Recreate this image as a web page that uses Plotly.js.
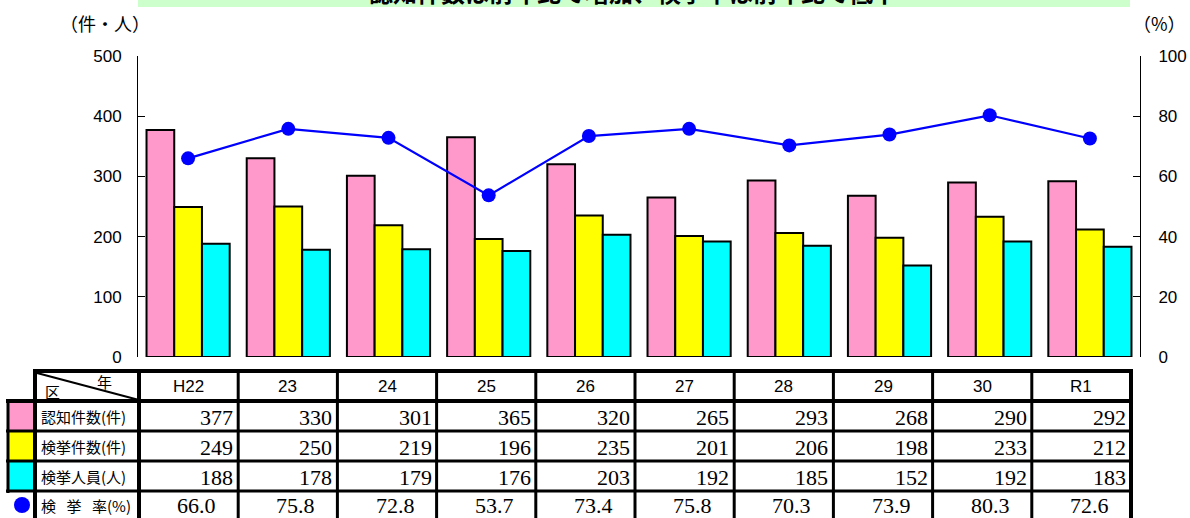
<!DOCTYPE html>
<html>
<head>
<meta charset="utf-8">
<script src="https://cdn.plot.ly/plotly-3.0.1.min.js"></script>
<style>html,body{margin:0;padding:0;background:#fff;}#chart{width:1190px;height:518px;}</style>
</head>
<body>
<div id="chart"></div>
<script>
const categories = ['H22','23','24','25','26','27','28','29','30','R1'];
const ninchiKensu = [377,330,301,365,320,265,293,268,290,292];
const kenkyoKensu = [249,250,219,196,235,201,206,198,233,212];
const kenkyoJinin = [188,178,179,176,203,192,185,152,192,183];
const kenkyoRitsu = [66.0,75.8,72.8,53.7,73.4,75.8,70.3,73.9,80.3,72.6];
const rowLabels = ['認知件数(件)','検挙件数(件)','検挙人員(人)','検 挙 率(%)'];
const titleText = '認知件数は前年比で増加、検挙率は前年比で低下';

const PINK = '#FF99CC', YELLOW = '#FFFF00', CYAN = '#00FFFF', BLUE = '#0000FF';

// plot area geometry (pixels)
const L = 138, R = 1140, T = 56, B = 357;
const W = R - L, H = B - T;
const px = x => (x - L) / W;
const py = y => (B - y) / H;

const barLine = {color: '#000', width: 2};
const traces = [
  {type: 'bar', name: '認知件数', x: categories, y: ninchiKensu, marker: {color: PINK, line: barLine}, hoverinfo: 'y'},
  {type: 'bar', name: '検挙件数', x: categories, y: kenkyoKensu, marker: {color: YELLOW, line: barLine}, hoverinfo: 'y'},
  {type: 'bar', name: '検挙人員', x: categories, y: kenkyoJinin, marker: {color: CYAN, line: barLine}, hoverinfo: 'y'},
  {type: 'scatter', mode: 'lines+markers', name: '検挙率', x: categories, y: kenkyoRitsu, yaxis: 'y2',
   line: {color: BLUE, width: 2.2}, marker: {color: BLUE, size: 14}, hoverinfo: 'y'}
];

const shapes = [];
const annotations = [];
function hline(x0, x1, y, w) {
  shapes.push({type: 'line', xref: 'paper', yref: 'paper', x0: px(x0), x1: px(x1), y0: py(y), y1: py(y), line: {color: '#000', width: w}});
}
function vline(x, y0, y1, w) {
  shapes.push({type: 'line', xref: 'paper', yref: 'paper', x0: px(x), x1: px(x), y0: py(y0), y1: py(y1), line: {color: '#000', width: w}});
}
function rect(x0, y0, x1, y1, fill) {
  shapes.push({type: 'rect', xref: 'paper', yref: 'paper', x0: px(x0), x1: px(x1), y0: py(y0), y1: py(y1), fillcolor: fill, line: {width: 0}});
}
function text(t, x, y, xanchor, font) {
  annotations.push({xref: 'paper', yref: 'paper', x: px(x), y: py(y), text: t, showarrow: false,
    xanchor: xanchor, yanchor: 'middle', font: font});
}

// title strip (cut off at the top)
rect(138, -20, 1130, 7, '#CCFFCC');
annotations.push({xref: 'paper', yref: 'paper', x: px(633), y: py(11), text: '<b>' + titleText + '</b>', showarrow: false,
  xanchor: 'center', yanchor: 'bottom', font: {family: 'Noto Sans CJK JP', size: 24, color: '#000'}});

// axis unit labels
text('（件・人）', 105, 23, 'center', {family: 'Noto Sans CJK JP', size: 18, color: '#000'});
text('（%）', 1188, 23, 'right', {family: 'Noto Sans CJK JP', size: 18, color: '#000'});

// table geometry
const tTop = 371;
const rowsY = [tTop, 401, 431, 461, 491, 519];
const colX0 = 139, colW = 99.2;
const nCols = categories.length;
const tRight = colX0 + colW * nCols;

// swatches
rect(9, 402, 33, 430, PINK);
rect(9, 432, 33, 460, YELLOW);
rect(9, 462, 33, 490, CYAN);
shapes.push({type: 'circle', xref: 'paper', yref: 'paper', x0: px(14), x1: px(30), y0: py(497), y1: py(513), fillcolor: BLUE, line: {width: 0}});

// grid lines
hline(33, tRight + 2, tTop, 4);
hline(6, tRight + 2, 401, 4);
hline(6, tRight + 2, 431, 3);
hline(6, tRight + 2, 461, 3);
hline(6, tRight + 2, 491, 3);
vline(8, 399, 493, 3);
vline(35, tTop - 2, 540, 4);
vline(colX0, tTop, 540, 4);
for (let i = 1; i <= nCols; i++) {
  vline(colX0 + colW * i, tTop, 540, i === nCols ? 4 : 3);
}
// diagonal header
shapes.push({type: 'line', xref: 'paper', yref: 'paper', x0: px(37), y0: py(373), x1: px(139), y1: py(400), line: {color: '#000', width: 2}});
text('年', 104, 381, 'center', {family: 'Noto Sans CJK JP', size: 15, color: '#000'});
text('区', 52, 391, 'center', {family: 'Noto Sans CJK JP', size: 15, color: '#000'});

// header years
categories.forEach((c, i) => {
  text(c, colX0 + colW * (i + 0.5), 386, 'center', {family: 'Liberation Sans', size: 17, color: '#000'});
});

// row labels
const labelFont = {family: 'Noto Sans CJK JP', size: 15, color: '#000'};
rowLabels.forEach((lab, r) => {
  const yc = r < 3 ? (rowsY[r + 1] + rowsY[r + 2]) / 2 : 505;
  text(lab.replace(/ /g, '\u2002\u2009'), 39, yc, 'left', labelFont);
});

// values
const valueFont = {family: 'Liberation Serif', size: 22, color: '#000'};
[ninchiKensu, kenkyoKensu, kenkyoJinin].forEach((series, r) => {
  series.forEach((v, i) => {
    text(String(v), colX0 + colW * (i + 1) - 3, (rowsY[r + 1] + rowsY[r + 2]) / 2 + 1, 'right', valueFont);
  });
});
kenkyoRitsu.forEach((v, i) => {
  text(v.toFixed(1), colX0 + colW * (i + 0.5) + 8, 505, 'center', valueFont);
});

const layout = {
  width: 1190, height: 518,
  margin: {l: L, r: 1190 - R, t: T, b: 518 - B, pad: 0},
  paper_bgcolor: '#fff', plot_bgcolor: '#fff',
  showlegend: false,
  barmode: 'group', bargap: 0.17, bargroupgap: 0,
  xaxis: {type: 'category', range: [-0.5, categories.length - 0.5], autorange: false, showticklabels: false, ticks: '',
          showline: false, showgrid: false, zeroline: false, fixedrange: true},
  yaxis: {range: [0, 500], dtick: 100, ticks: 'inside', ticklen: 7, tickcolor: '#000', showline: true, linecolor: '#000', linewidth: 1,
          showgrid: false, zeroline: false, ticklabelstandoff: 12,
          tickfont: {family: 'Liberation Sans', size: 17, color: '#000'}, fixedrange: true},
  yaxis2: {range: [0, 100], dtick: 20, overlaying: 'y', side: 'right', ticks: 'inside', ticklen: 7, tickcolor: '#000',
           showline: true, linecolor: '#000', linewidth: 1, showgrid: false, zeroline: false, ticklabelstandoff: 14,
           tickfont: {family: 'Liberation Sans', size: 17, color: '#000'}, fixedrange: true},
  shapes: shapes,
  annotations: annotations
};

Plotly.newPlot('chart', traces, layout, {displayModeBar: false, staticPlot: true});
</script>
</body>
</html>
